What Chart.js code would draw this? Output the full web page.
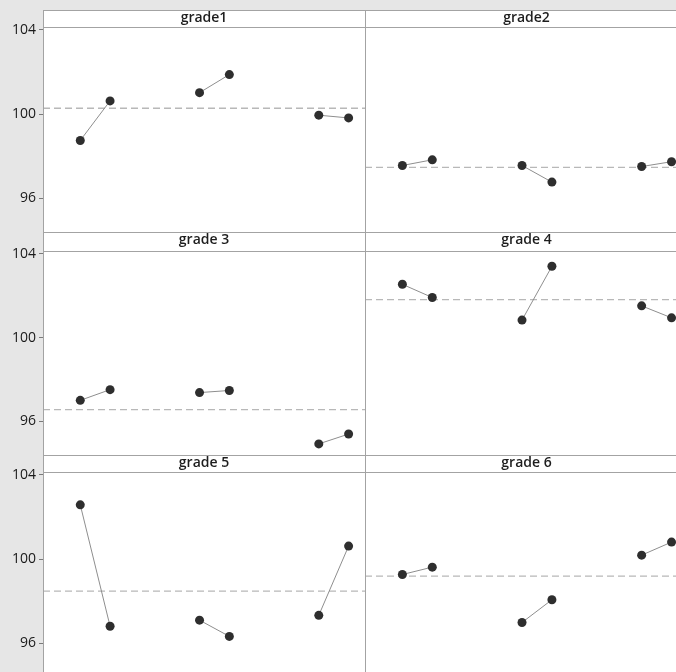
<!DOCTYPE html>
<html>
<head>
<meta charset="utf-8">
<script src="https://cdn.jsdelivr.net/npm/chart.js@4.4.1/dist/chart.umd.min.js"></script>
<style>
  html, body { margin: 0; padding: 0; width: 676px; height: 672px; overflow: hidden; background: #e6e6e6; }
  #sheet { position: absolute; left: 43px; top: 10px; width: 700px; height: 700px; background: #ffffff; }
  canvas { position: absolute; }
</style>
</head>
<body>
<div id="sheet"></div>
<div id="panels"></div>
<script>
// Panel titles, in reading order (left to right, top to bottom)
const panelTitles = ['grade1', 'grade2', 'grade 3', 'grade 4', 'grade 5', 'grade 6'];

// Three groups, each measured at two levels
const groups = ['1', '2', '3'];
const levels = ['1', '2'];

// Cell means per panel: g1-l1, g1-l2, g2-l1, g2-l2, g3-l1, g3-l2
const grade1 = [98.75, 100.63, 101.02, 101.88, 99.95, 99.82];
const grade2 = [97.56, 97.83, 97.56, 96.77, 97.51, 97.74];
const grade3 = [97.01, 97.52, 97.38, 97.48, 94.93, 95.40];
const grade4 = [102.55, 101.92, 100.84, 103.41, 101.52, 100.95];
const grade5 = [102.58, 96.81, 97.10, 96.33, 97.33, 100.62];
const grade6 = [99.27, 99.62, 96.99, 98.07, 100.19, 100.81];

// Overall mean of each panel (dashed reference line)
const overallMean = [100.28, 97.47, 96.57, 101.82, 98.48, 99.19];

// Shared y axis ticks
const yTicks = [96, 100, 104];

const panelValues = [grade1, grade2, grade3, grade4, grade5, grade6];

// ---- layout ----
const Y_MIN = 94.4, Y_MAX = 104.14;
const X_MIN = -0.25, X_MAX = 10.55;
const rowTop = [10, 232, 455];
const rowBottom = [232, 455, 677];
const titleH = [17, 19, 17];
const FONT = "'Open Sans', 'Noto Sans', sans-serif";
const FRAME = '#a3a3a3';

// frame of each panel: outer box plus the line under the title strip
const panelFrame = {
  id: 'panelFrame',
  afterDraw(chart) {
    const { ctx, chartArea: a } = chart;
    ctx.save();
    ctx.strokeStyle = FRAME;
    ctx.lineWidth = 1;
    ctx.beginPath();
    ctx.moveTo(a.left + 0.5, 0.5); ctx.lineTo(a.right + 0.5, 0.5);
    ctx.moveTo(a.left + 0.5, a.top + 0.5); ctx.lineTo(a.right + 0.5, a.top + 0.5);
    ctx.moveTo(a.left + 0.5, a.bottom + 0.5); ctx.lineTo(a.right + 0.5, a.bottom + 0.5);
    ctx.moveTo(a.left + 0.5, 0); ctx.lineTo(a.left + 0.5, a.bottom + 1);
    ctx.moveTo(a.right + 0.5, 0); ctx.lineTo(a.right + 0.5, a.bottom + 1);
    ctx.stroke();
    ctx.restore();
  }
};

const host = document.getElementById('panels');

panelValues.forEach((vals, p) => {
  const row = Math.floor(p / 2), col = p % 2;
  const left = col === 0 ? 0 : 365;
  const width = col === 0 ? 366 : 323;
  const height = rowBottom[row] - rowTop[row] + 2;

  const cv = document.createElement('canvas');
  cv.width = width; cv.height = height;
  cv.style.left = left + 'px';
  cv.style.top = rowTop[row] + 'px';
  cv.style.width = width + 'px'; cv.style.height = height + 'px';
  host.appendChild(cv);

  const datasets = groups.map((g, gi) => ({
    data: levels.map((l, li) => ({ x: gi * 4 + li + 1, y: vals[gi * 2 + li] })),
    showLine: true,
    borderColor: '#8e8e8e',
    borderWidth: 1,
    pointRadius: 4.5,
    pointBackgroundColor: '#2e2e2e',
    pointBorderWidth: 0,
    clip: false
  }));
  datasets.push({
    data: [{ x: X_MIN, y: overallMean[p] }, { x: X_MAX, y: overallMean[p] }],
    showLine: true,
    borderColor: '#b8b8b8',
    borderWidth: 1.3,
    borderDash: [7, 4],
    pointRadius: 0
  });

  new Chart(cv, {
    type: 'scatter',
    data: { datasets },
    options: {
      responsive: false,
      animation: false,
      events: [],
      devicePixelRatio: 1,
      layout: { autoPadding: false, padding: { top: 0, bottom: 2, left: 0, right: col === 0 ? 1 : 0 } },
      plugins: {
        legend: { display: false },
        tooltip: { enabled: false },
        title: {
          display: true,
          fullSize: false,
          text: panelTitles[p],
          color: '#1e1e1e',
          font: { family: FONT, size: 14, weight: '600', lineHeight: '15px' },
          padding: { top: 1, bottom: titleH[row] - 16 }
        }
      },
      scales: {
        x: {
          type: 'linear', min: X_MIN, max: X_MAX, display: false
        },
        y: {
          type: 'linear', min: Y_MIN, max: Y_MAX,
          display: col === 0,
          afterFit(scale) {
            if (col === 0) scale.width = 43;
            scale.paddingTop = 0;
            scale.paddingBottom = 0;
          },
          afterBuildTicks(scale) { scale.ticks = yTicks.map(v => ({ value: v })); },
          border: { display: false },
          grid: { drawOnChartArea: false, drawTicks: true, tickLength: 4, color: '#7a7a7a' },
          ticks: {
            padding: 3,
            color: '#1a1a1a',
            font: { family: FONT, size: 14 },
            callback: v => String(v)
          }
        }
      }
    },
    plugins: [panelFrame]
  });
});
</script>
</body>
</html>
